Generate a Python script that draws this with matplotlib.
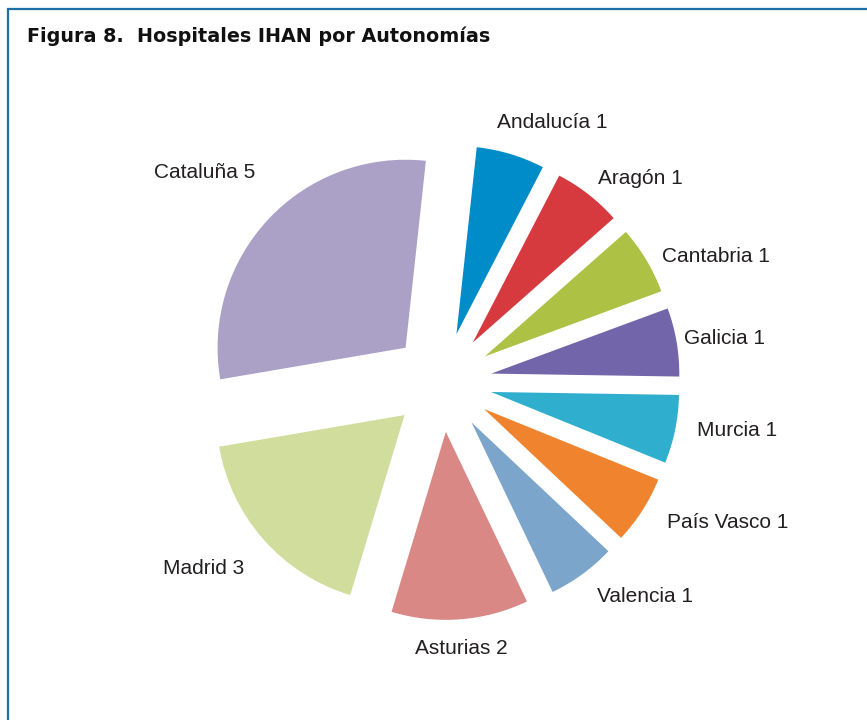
import matplotlib
matplotlib.use("Agg")
import matplotlib.pyplot as plt

# datos de la figura 8
regiones = ["Andalucía", "Aragón", "Cantabria", "Galicia", "Murcia",
            "País Vasco", "Valencia", "Asturias", "Madrid", "Cataluña"]
hospitales = [1, 1, 1, 1, 1, 1, 1, 2, 3, 5]
colores = ["#008cc9", "#d63a3f", "#adc144", "#7265a9", "#2fafcd",
           "#f0842e", "#7ba5cb", "#d98886", "#d1dd9d", "#aba1c7"]

# posiciones de las etiquetas (px de la imagen)
pos_etiquetas = [(552, 122), (640, 178), (716, 256), (724, 338), (737, 430),
                 (728, 522), (645, 597), (461, 648), (204, 569), (205, 172)]

W, H = 867, 720
fig = plt.figure(figsize=(W / 100, H / 100), dpi=100)
ax = fig.add_axes([0, 0, 1, 1])

centro = (442, 382)
radio = 188
separacion = 50

# y invertida -> counterclock=True se ve en sentido horario
wedges, _ = ax.pie(hospitales, colors=colores, startangle=-83.8, counterclock=True,
                   center=centro, radius=radio, explode=[separacion] * len(hospitales),
                   wedgeprops=dict(linewidth=0))

ax.set_xlim(0, W)
ax.set_ylim(H, 0)
ax.set_aspect("equal")
ax.axis("off")

for reg, n, (x, y) in zip(regiones, hospitales, pos_etiquetas):
    ax.text(x, y, f"{reg} {n}", ha="center", va="center", fontsize=15,
            family="Liberation Sans", color="#231f20")

# marco azul arriba e izquierda
ax.plot([8, 8, W], [H, 9, 9], color="#1d6fa5", lw=1.6, clip_on=False,
        solid_joinstyle="miter")

ax.text(27, 36, "Figura 8.  Hospitales IHAN por Autonomías", ha="left", va="center",
        fontsize=13.8, fontweight="bold", family="DejaVu Sans", color="#111111")

fig.savefig("out.png", dpi=100)
